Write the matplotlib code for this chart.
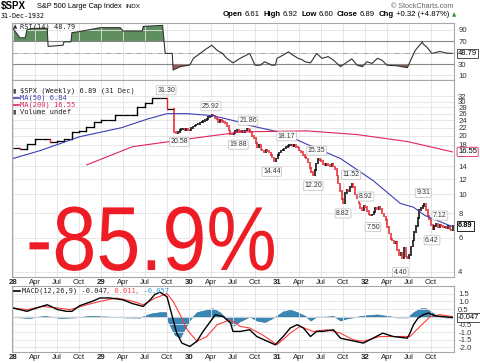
import numpy as np
import pandas as pd
import matplotlib
matplotlib.use("Agg")
import matplotlib.pyplot as plt
from matplotlib.patheffects import AbstractPathEffect
from matplotlib.transforms import Affine2D

plt.rcParams['font.family'] = ['Liberation Sans', 'DejaVu Sans']

# monthly closes (the index only moved monthly until Oct 1929)
month_close = [17.4, 17.2, 18.2, 19.2, 19.2, 18.7, 18.8, 19.2, 21.0, 21.2, 22.1, 23.5,
               24.2, 24.2, 25.5, 25.5, 25.5, 28.1, 29.6, 31.1, 31.3, 27.5]

# weekly closes, Nov 1929 .. 31 Dec 1932
week_close = [
    20.9, 20.6, 21.0, 21.4, 21.6,  21.7, 21.4, 21.6, 21.5,
    21.3, 21.9, 22.3, 22.6,  22.9, 23.1, 23.4, 23.6,  23.9, 24.2, 24.5, 24.9, 25.2,
    25.6, 25.4, 24.7, 24.4,  23.6, 24.1, 23.8, 23.5, 23.2,  22.4, 21.3, 20.4, 20.3,
    20.7, 21.1, 21.4, 21.1,  20.9, 21.2, 21.0, 21.3, 21.6,  21.5, 20.9, 20.0, 19.5,
    18.4, 17.6, 17.9, 17.0,  16.8, 16.5, 16.9, 16.7, 16.4,  15.9, 15.5, 14.9, 15.3,
    16.0, 16.4, 16.8, 16.9, 17.2,  17.5, 17.7, 17.9, 18.0,  17.8, 17.9, 17.6, 17.4,
    16.8, 16.5, 16.0, 15.6,  15.3, 14.6, 13.7, 13.0, 12.5,  13.4, 14.4, 15.2, 15.0,
    14.8, 14.3, 14.1, 14.4,  14.2, 14.0, 14.3, 13.9, 13.5,  12.5, 11.4, 10.4, 9.5,
    9.0, 10.2, 10.6, 10.4, 10.9,  11.3, 10.9, 10.0, 9.6,  9.0, 8.5, 8.3, 8.7,
    8.6, 8.2, 7.9, 7.8, 7.9,  8.1, 8.5, 8.4, 8.6,  8.4, 8.0, 7.7, 7.4,
    6.8, 6.3, 5.9, 5.8, 5.6,  5.7, 5.2, 4.9, 5.0,  4.7, 5.3, 4.8, 4.7,
    4.9, 5.4, 5.8, 6.4, 6.9,  7.6, 8.3, 8.5, 8.7,  9.0, 8.3, 7.8, 7.5,
    7.0, 6.6, 6.9, 7.1, 6.8,  7.0, 6.9, 6.8, 6.8,  6.7, 6.9, 6.6, 6.57, 6.89,
]

ma50_t = [1928.00, 1928.31, 1928.76, 1929.23, 1929.53, 1929.75, 1929.98, 1930.27,
          1930.58, 1930.69, 1931.03, 1931.34, 1931.72, 1932.09, 1932.40, 1932.55,
          1932.68, 1932.77, 1932.99]
ma50_v = [15.3, 16.8, 19.8, 22.0, 24.4, 26.0, 26.0, 25.4, 23.5, 22.6, 20.9, 18.1,
          15.3, 11.8, 9.0, 8.6, 7.8, 7.5, 6.84]

ma200_t = [1928.84, 1929.36, 1930.11, 1930.58, 1930.69, 1931.34, 1931.91, 1932.48, 1932.99]
ma200_v = [14.2, 17.6, 19.6, 20.9, 21.0, 21.2, 20.3, 18.7, 16.55]

ann_text = ["31.30", "25.92", "20.58", "19.88", "21.86", "14.44", "18.17", "15.35",
            "12.20", "11.52", "8.82", "8.92", "7.50", "4.40", "9.31", "6.42", "7.12"]
ann_t = [1929.74, 1930.25, 1929.89, 1930.56, 1930.67, 1930.94, 1931.11, 1931.45,
         1931.41, 1931.84, 1931.75, 1932.01, 1932.09, 1932.40, 1932.66, 1932.76, 1932.85]
ann_v = [31.30, 25.92, 20.58, 19.88, 21.86, 14.44, 18.17, 15.35,
         12.20, 11.52, 8.82, 8.92, 7.50, 4.40, 9.31, 6.42, 7.12]
ann_high = [True, True, False, False, True, False, True, True,
            False, True, False, True, False, False, True, False, True]

rsi_t = [1928.00, 1928.08, 1928.14, 1928.16, 1928.23, 1928.39, 1928.40, 1928.57, 1928.58,
         1928.66, 1928.67, 1928.76, 1928.99, 1929.22, 1929.25, 1929.47, 1929.48, 1929.70,
         1929.73, 1929.81, 1929.82, 1929.90, 1930.01, 1930.05, 1930.20, 1930.26, 1930.32,
         1930.38, 1930.43, 1930.50, 1930.55, 1930.58, 1930.69, 1930.75, 1930.81, 1930.86,
         1930.94, 1930.98, 1931.00, 1931.07, 1931.13, 1931.18, 1931.24, 1931.28, 1931.32,
         1931.38, 1931.45, 1931.51, 1931.58, 1931.64, 1931.72, 1931.80, 1931.85, 1931.91,
         1931.97, 1932.02, 1932.08, 1932.14, 1932.19, 1932.25, 1932.36, 1932.48, 1932.51,
         1932.57, 1932.65, 1932.66, 1932.70, 1932.76, 1932.82, 1932.85, 1932.93, 1932.99]
rsi_v = [92.6, 76, 76, 90, 92.6, 92.6, 61, 63, 69,
         69, 85, 87, 93.8, 93.8, 88, 88, 96, 97.8,
         48.6, 48.6, 19.6, 25.3, 28.3, 40, 57, 63, 54,
         48.6, 40, 32, 37, 40, 48.6, 28, 28, 34,
         28, 28, 40, 45.7, 51.4, 45.7, 40, 38, 34,
         32, 48.6, 40, 43, 37, 25.4, 34, 39, 28,
         25.4, 34, 31, 40, 37, 28, 27, 23.6, 34,
         54, 68.8, 65, 60, 48.6, 51, 52, 49, 48.79]

macd_t = [1928.00, 1928.16, 1928.27, 1928.39, 1928.51, 1928.61, 1928.67, 1928.76, 1928.90,
          1928.99, 1929.10, 1929.25, 1929.36, 1929.48, 1929.56, 1929.61, 1929.67, 1929.75,
          1929.78, 1929.82, 1929.86, 1929.92, 1930.01, 1930.09, 1930.16, 1930.30, 1930.39,
          1930.47, 1930.50, 1930.58, 1930.69, 1930.77, 1930.89, 1930.98, 1931.07, 1931.15,
          1931.23, 1931.30, 1931.38, 1931.45, 1931.52, 1931.64, 1931.72, 1931.80, 1931.98,
          1932.09, 1932.20, 1932.32, 1932.48, 1932.51, 1932.55, 1932.60, 1932.66, 1932.72,
          1932.80, 1932.89, 1932.99]
macd_v = [0.57, 0.35, 0.57, 0.78, 0.46, 0.35, 0.35, 0.72, 1.0,
          1.22, 1.22, 1.1, 0.85, 0.67, 1.1, 1.44, 1.6, 1.3,
          0.67, -0.2, -1.05, -1.72, -1.94, -1.6, -0.96, 0.13, 0.0,
          -0.4, -0.96, -0.96, -0.85, -1.29, -1.6, -1.83, -1.29, -0.74,
          -0.52, -0.74, -1.29, -0.96, -0.96, -0.85, -1.4, -1.5, -1.72,
          -1.4, -1.07, -1.29, -1.4, -1.07, -0.52, -0.1, 0.13, 0.24,
          0.05, 0.0, -0.047]

signal_t = [1928.00, 1928.16, 1928.34, 1928.51, 1928.65, 1928.84, 1928.99, 1929.18,
            1929.36, 1929.48, 1929.61, 1929.75, 1929.82, 1929.90, 1929.98, 1930.09,
            1930.20, 1930.32, 1930.47, 1930.58, 1930.69, 1930.84, 1931.00, 1931.15,
            1931.26, 1931.41, 1931.57, 1931.72, 1931.86, 1931.98, 1932.17, 1932.36,
            1932.51, 1932.625, 1932.74, 1932.85, 1932.99]
signal_v = [0.57, 0.46, 0.67, 0.57, 0.46, 0.78, 1.0, 1.22,
            1.0, 0.78, 1.2, 1.5, 1.0, 0.13, -0.85, -1.6,
            -1.3, -0.52, -0.2, -0.63, -0.74, -1.2, -1.83, -1.07,
            -0.63, -0.96, -0.85, -1.07, -1.5, -1.6, -1.29, -1.29,
            -1.29, -0.63, 0.0, 0.13, 0.011]

hist_t = [1928.00, 1928.19, 1928.36, 1928.53, 1928.70, 1928.88, 1929.10, 1929.27,
          1929.44, 1929.56, 1929.67, 1929.74, 1929.76, 1929.84, 1929.90, 1929.97,
          1930.01, 1930.09, 1930.20, 1930.27, 1930.35, 1930.42, 1930.50, 1930.58,
          1930.69, 1930.77, 1930.86, 1930.98, 1931.07, 1931.15, 1931.23, 1931.32,
          1931.38, 1931.45, 1931.55, 1931.64, 1931.72, 1931.80, 1931.91, 1932.02,
          1932.14, 1932.25, 1932.36, 1932.48, 1932.55, 1932.63, 1932.69, 1932.74,
          1932.82, 1932.91, 1932.99]
hist_v = [-0.02, -0.08, 0.05, -0.08, -0.05, 0.05, 0.0, -0.05,
          -0.06, 0.2, 0.3, 0.3, -0.3, -1.2, -1.35, -0.6,
          -0.2, 0.3, 0.45, 0.55, 0.3, -0.1, -0.6, -0.3,
          0.0, -0.25, -0.35, 0.0, 0.35, 0.45, 0.3, 0.05,
          -0.25, 0.0, 0.0, 0.05, -0.25, -0.1, 0.0, 0.1,
          0.15, 0.05, -0.05, -0.05, 0.3, 0.55, 0.55, 0.35,
          0.05, -0.05, -0.057]

price_ticks = [4, 6, 8, 10, 12, 14, 16, 18, 20, 22, 24, 26, 28, 30, 32]
macd_ticks = [-2.0, -1.5, -1.0, -0.5, 0.0, 0.5, 1.0, 1.5]
rsi_ticks = [10, 30, 50, 70, 90]

RED = '#e8202a'
BLUE = '#3b3fb5'
MAROON = '#e0245a'
GRID = '#e3e3e3'
FRAME = '#a8a8a8'
W, H = 480, 363


class Squeeze(AbstractPathEffect):
    # narrow the glyphs horizontally around x0 (display pixels)
    def __init__(self, sx, x0):
        super().__init__()
        self.sx = sx
        self.x0 = x0

    def draw_path(self, renderer, gc, tpath, affine, rgbFace=None):
        a = affine + Affine2D().translate(-self.x0, 0).scale(self.sx, 1).translate(self.x0, 0)
        renderer.draw_path(gc, tpath, a, rgbFace)


def dec_year(d):
    return d.year + (d.dayofyear - 1) / 365.25


def style_panel(ax):
    for s in ax.spines.values():
        s.set_color(FRAME)
        s.set_linewidth(0.8)
    ax.yaxis.tick_right()
    ax.tick_params(axis='y', length=0, pad=3, labelsize=5.6, colors='#333333')
    ax.tick_params(axis='x', length=0)
    ax.set_xticks(np.arange(1928, 1933, 0.25))
    ax.set_xticklabels([])
    ax.grid(True, color=GRID, linewidth=0.6)
    ax.set_xlim(1927.99, 1933.01)


def xlabels(ax):
    for i, t in enumerate(np.arange(1928, 1933, 0.25)):
        if i % 4 == 0:
            lab, w = str(int(t))[2:], 'bold'
        else:
            lab, w = ['', 'Apr', 'Jul', 'Oct'][i % 4], 'normal'
        ax.annotate(lab, (t, 0), xycoords=('data', 'axes fraction'), xytext=(0, -4.2),
                    textcoords='offset points', ha='center', va='center',
                    fontsize=5.6, fontweight=w, color='#222222')


def right_box(ax, val, txt, ec, boxstyle='square', weight='normal'):
    ax.annotate(txt, (1, val), xycoords=('axes fraction', 'data'), xytext=(3, 0),
                textcoords='offset points', fontsize=5.4, va='center', ha='left',
                fontweight=weight,
                bbox=dict(boxstyle=boxstyle + ',pad=0.15', fc='white', ec=ec, lw=0.6))


fig = plt.figure(figsize=(4.8, 3.63), dpi=100)
renderer = fig.canvas.get_renderer()
L, R = 12 / W, 454 / W
ax_rsi = fig.add_axes([L, 1 - 80 / H, R - L, 57 / H])
ax_p = fig.add_axes([L, 1 - 277 / H, R - L, 197 / H])
ax_m = fig.add_axes([L, 1 - 352 / H, R - L, 66 / H])

# ---------------- RSI ----------------
style_panel(ax_rsi)
ax_rsi.set_ylim(2, 102)
ax_rsi.set_yticks(rsi_ticks)
ax_rsi.set_yticklabels(['' if v == 50 else str(v) for v in rsi_ticks])
rt = np.array(rsi_t)
rv = np.array(rsi_v)
ax_rsi.fill_between(rt, rv, 70, where=rv >= 70, interpolate=True, color='#5f8f5f', lw=0)
ax_rsi.fill_between(rt, rv, 30, where=rv <= 30, interpolate=True, color='#a05555', lw=0)
ax_rsi.axhline(70, color='#888888', lw=0.8)
ax_rsi.axhline(30, color='#888888', lw=0.8)
ax_rsi.axhline(50, color='#aaaaaa', lw=0.7, ls='-.')
ax_rsi.plot(rt, rv, color='#333333', lw=0.8)
ax_rsi.text(0.018, 0.93, 'RSI(14) 48.79', transform=ax_rsi.transAxes, fontsize=5,
            family='DejaVu Sans Mono', va='center', ha='left', color='#222222')
ax_rsi.text(0.003, 0.93, '▲', transform=ax_rsi.transAxes, fontsize=4,
            family='DejaVu Sans', va='center', ha='left', color='#333333')
right_box(ax_rsi, 48.79, '48.79', '#333333')

# ---------------- price ----------------
style_panel(ax_p)
ax_p.set_yscale('log')
ax_p.set_ylim(3.77, 38.7)
ax_p.set_yticks(price_ticks)
ax_p.set_yticklabels([str(v) for v in price_ticks])
ax_p.yaxis.set_minor_locator(matplotlib.ticker.NullLocator())
xlabels(ax_p)

m_edges = dec_year(pd.date_range('1928-01-01', periods=len(month_close) + 1, freq='MS'))
for i, v in enumerate(month_close):
    ax_p.plot([m_edges[i], m_edges[i + 1]], [v, v], color='black', lw=0.9,
              solid_capstyle='butt')
    if i > 0:
        c = RED if v < month_close[i - 1] else 'black'
        ax_p.plot([m_edges[i], m_edges[i]], [month_close[i - 1], v], color=c, lw=1.0)

wd = dec_year(pd.date_range(end='1932-12-31', periods=len(week_close), freq='W-SAT'))
opens = [month_close[-1]] + week_close[:-1]
for t, o, c in zip(wd, opens, week_close):
    col = RED if c < o else 'black'
    lo, hi = min(o, c), max(o, c)
    ax_p.vlines(t, lo * 0.99, hi * 1.01, color=col, lw=1.1)

ax_p.plot(ma50_t, ma50_v, color=BLUE, lw=0.8)
ax_p.plot(ma200_t, ma200_v, color=MAROON, lw=0.8)

for txt, t, v, hi in zip(ann_text, ann_t, ann_v, ann_high):
    ax_p.annotate(txt, (t, v), xytext=(0, 5.5 if hi else -6), textcoords='offset points',
                  ha='center', va='center', fontsize=5, color='#333333',
                  bbox=dict(boxstyle='round,pad=0.15', fc='white', ec='#bbbbbb', lw=0.5))

leg = [('$SPX (Weekly) 6.89 (31 Dec)', '#222222'), ('MA(50) 6.84', BLUE),
       ('MA(200) 16.55', MAROON), ('Volume undef', '#222222')]
for i, (txt, c) in enumerate(leg):
    y = 1 - (11 + 7 * i) / 197
    ax_p.text(0.018, y, txt, transform=ax_p.transAxes, fontsize=5,
              family='DejaVu Sans Mono', color=c, va='center', ha='left')
    if c != '#222222':
        ax_p.plot([0.002, 0.016], [y, y], transform=ax_p.transAxes, color=c, lw=1.2)
    else:
        ax_p.text(0.002, y, '▮', transform=ax_p.transAxes, fontsize=4.5,
                  family='DejaVu Sans', color='#444444', va='center', ha='left')

right_box(ax_p, 16.55, '16.55', MAROON, 'round')
right_box(ax_p, 6.89, '6.89', 'black', weight='bold')

big = fig.text(26 / W, 1 - 270 / H, '-85.9%', fontsize=65.5, color='#ee1c25',
               ha='left', va='baseline')
big.set_path_effects([Squeeze(0.87, 26)])

# ---------------- MACD ----------------
style_panel(ax_m)
ax_m.set_ylim(-2.3, 2.0)
ax_m.set_yticks(macd_ticks)
ax_m.set_yticklabels(['' if v == 0 else f'{v:.1f}' for v in macd_ticks])
xlabels(ax_m)
ht = np.array(hist_t)
hv = np.array(hist_v)
ax_m.fill_between(ht, hv, 0, color='#3a86b4', lw=0.4, edgecolor='#2a6e9a')
ax_m.plot(signal_t, signal_v, color='#ff3b3b', lw=0.8)
ax_m.plot(macd_t, macd_v, color='black', lw=1.0)
ax_m.plot([0.003, 0.017], [0.93, 0.93], transform=ax_m.transAxes, color='black', lw=1.2)
mx = 0.022
for txt, c in [('MACD(12,26,9) -0.047', '#222222'), (', 0.011', '#ff3b3b'),
               (', -0.057', '#3399cc')]:
    ax_m.text(mx, 0.93, txt, transform=ax_m.transAxes, fontsize=5,
              family='DejaVu Sans Mono', color=c, va='center', ha='left')
    mx += len(txt) * 4.2 / 442
right_box(ax_m, -0.047, '-0.047', '#333333')

# ---------------- header ----------------
fig.text(0.5 / W, 1 - 6 / H, '$SPX', fontsize=7, fontweight='bold', va='center', ha='left')
fig.text(37 / W, 1 - 6 / H, 'S&P 500 Large Cap Index', fontsize=5.3, va='center', ha='left')
fig.text(125 / W, 1 - 6 / H, 'INDX', fontsize=4.5, va='center', ha='left')
fig.text(1 / W, 1 - 16 / H, '31-Dec-1932', fontsize=4.8, family='DejaVu Sans Mono',
         va='center', ha='left')
fig.text(453 / W, 1 - 6 / H, '© StockCharts.com', fontsize=5.2, color='#666666',
         va='center', ha='right')

quote = [('Open', 'bold'), ('6.61', 'normal'), ('High', 'bold'), ('6.92', 'normal'),
         ('Low', 'bold'), ('6.60', 'normal'), ('Close', 'bold'), ('6.89', 'normal'),
         ('Chg', 'bold'), ('+0.32 (+4.87%)', 'normal')]
x = 223
for i, (txt, w) in enumerate(quote):
    t = fig.text(x / W, 1 - 15 / H, txt, fontsize=5.6, fontweight=w, va='center', ha='left')
    x = t.get_window_extent(renderer).x1 + (2.0 if i % 2 == 0 else 3.5)
fig.text(x / W, 1 - 15 / H, '▲', fontsize=4, color='#2a9a2a', va='center', ha='left',
         family='DejaVu Sans')

fig.savefig('out.png', dpi=100)
